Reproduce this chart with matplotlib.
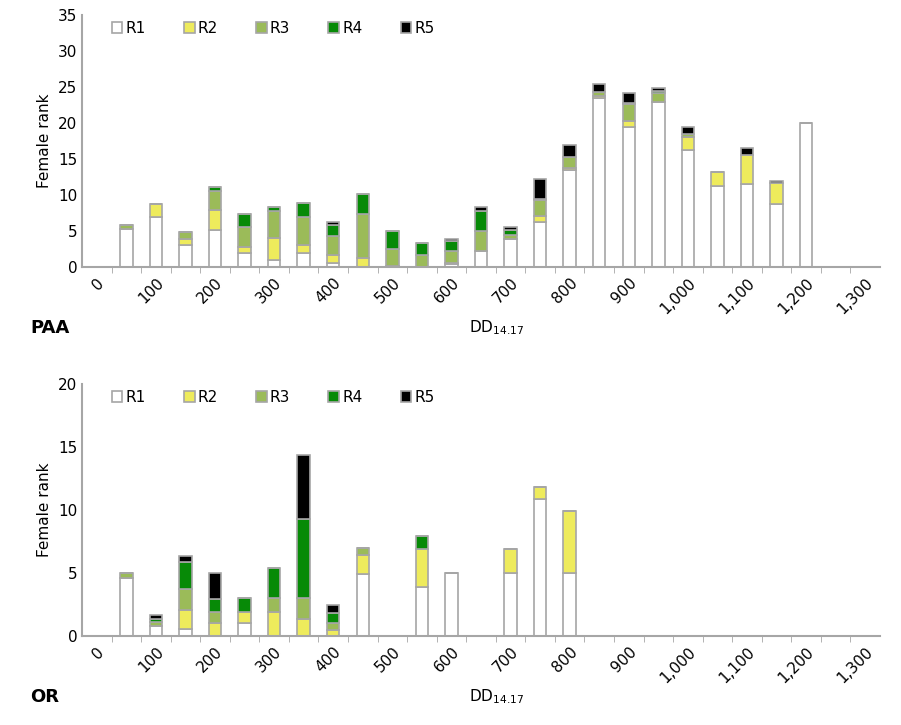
import numpy as np
from matplotlib import pyplot as plt

cats = list(range(0, 1350, 50))
tick_labels = ['0', '100', '200', '300', '400', '500', '600', '700', '800', '900',
               '1,000', '1,100', '1,200', '1,300']

# PAA panel, bars at 50..1200
paa_x = list(range(50, 1250, 50))
paa_r1 = [5.3, 7.0, 3.0, 5.1, 1.9, 1.0, 2.0, 0.5, 0.0, 0.1, 0.0, 0.4, 2.2, 3.9, 6.2, 13.5, 23.5, 19.4, 22.9, 16.3, 11.3, 11.5, 8.7, 20.0]
paa_r2 = [0.0, 1.8, 0.9, 2.8, 0.9, 3.0, 1.0, 1.2, 1.3, 0.0, 0.0, 0.2, 0.0, 0.0, 0.9, 0.3, 0.2, 0.9, 0.0, 1.8, 1.9, 4.1, 2.9, 0.0]
paa_r3 = [0.5, 0.0, 0.9, 2.7, 2.7, 3.8, 3.9, 2.6, 6.1, 2.4, 1.6, 1.6, 2.8, 0.5, 2.2, 1.5, 0.6, 2.4, 1.2, 0.4, 0.0, 0.0, 0.0, 0.0]
paa_r4 = [0.0, 0.0, 0.0, 0.5, 1.8, 0.5, 2.0, 1.5, 2.8, 2.5, 1.7, 1.4, 2.8, 0.7, 0.1, 0.0, 0.0, 0.1, 0.4, 0.0, 0.0, 0.0, 0.0, 0.0]
paa_r5 = [0.0, 0.0, 0.0, 0.0, 0.0, 0.0, 0.0, 0.5, 0.0, 0.0, 0.0, 0.3, 0.6, 0.4, 2.8, 1.6, 1.1, 1.4, 0.3, 1.0, 0.0, 0.9, 0.4, 0.0]

# OR panel
or_x = [50, 100, 150, 200, 250, 300, 350, 400, 450, 550, 600, 700, 750, 800]
or_r1 = [4.6, 0.77, 0.55, 0.0, 1.0, 0.0, 0.0, 0.0, 4.9, 3.9, 5.0, 5.0, 10.9, 5.0]
or_r2 = [0.0, 0.0, 1.55, 1.0, 0.9, 1.9, 1.35, 0.45, 1.5, 3.0, 0.0, 1.9, 0.95, 4.9]
or_r3 = [0.4, 0.33, 1.6, 0.9, 0.0, 1.1, 1.65, 0.55, 0.6, 0.0, 0.0, 0.0, 0.0, 0.0]
or_r4 = [0.0, 0.25, 2.15, 1.05, 1.1, 2.4, 6.3, 0.85, 0.0, 1.0, 0.0, 0.0, 0.0, 0.0]
or_r5 = [0.0, 0.3, 0.5, 2.05, 0.0, 0.0, 5.1, 0.65, 0.0, 0.0, 0.0, 0.0, 0.0, 0.0]

names = ['R1', 'R2', 'R3', 'R4', 'R5']
colors = ['white', '#eeeb5c', '#9bbb59', '#078a07', 'black']
grey = '#a6a6a6'

fig = plt.figure(figsize=(9.01, 7.25), dpi=100)
ax1 = fig.add_axes([82/901, 1-267/725, 798/901, 252/725])
ax2 = fig.add_axes([82/901, 1-636/725, 798/901, 252/725])

def panel(ax, xs, series, ymax, tag):
    pos = np.array([cats.index(v) for v in xs])
    bottom = np.zeros(len(xs))
    for nm, vals, c in zip(names, series, colors):
        ax.bar(pos, vals, 0.42, bottom=bottom, color=c, edgecolor=grey, linewidth=1.2, label=nm)
        bottom += np.array(vals)
    ax.set_xlim(-0.5, len(cats) - 0.5)
    ax.set_ylim(0, ymax)
    ax.set_yticks(np.arange(0, ymax + 1, 5))
    ax.set_xticks(np.arange(0, len(cats), 2))
    ax.set_xticklabels(tick_labels, rotation=45, ha='right', rotation_mode='anchor')
    ax.set_xticks(np.arange(0.5, len(cats) - 0.5, 1), minor=True)
    ax.tick_params(axis='x', which='major', length=0, labelsize=11, pad=6)
    ax.tick_params(axis='x', which='minor', length=4, color=grey)
    ax.tick_params(axis='y', length=0, labelsize=11)
    for s in ['top', 'right']:
        ax.spines[s].set_visible(False)
    for s in ['left', 'bottom']:
        ax.spines[s].set_color(grey)
        ax.spines[s].set_linewidth(1.5)
    ax.set_ylabel('Female rank', fontsize=11)
    ax.legend(loc='upper left', ncol=5, frameon=False, fontsize=11, handlelength=0.7,
              handletextpad=0.2, columnspacing=2.5, bbox_to_anchor=(0.02, 1.03))
    ax.text(0.52, -0.26, 'DD$_{14.17}$', transform=ax.transAxes, ha='center', fontsize=11)
    ax.text(-0.065, -0.26, tag, transform=ax.transAxes, ha='left', fontsize=13, fontweight='bold')

panel(ax1, paa_x, [paa_r1, paa_r2, paa_r3, paa_r4, paa_r5], 35, 'PAA')
panel(ax2, or_x, [or_r1, or_r2, or_r3, or_r4, or_r5], 20, 'OR')

fig.savefig('out.png', dpi=100)
